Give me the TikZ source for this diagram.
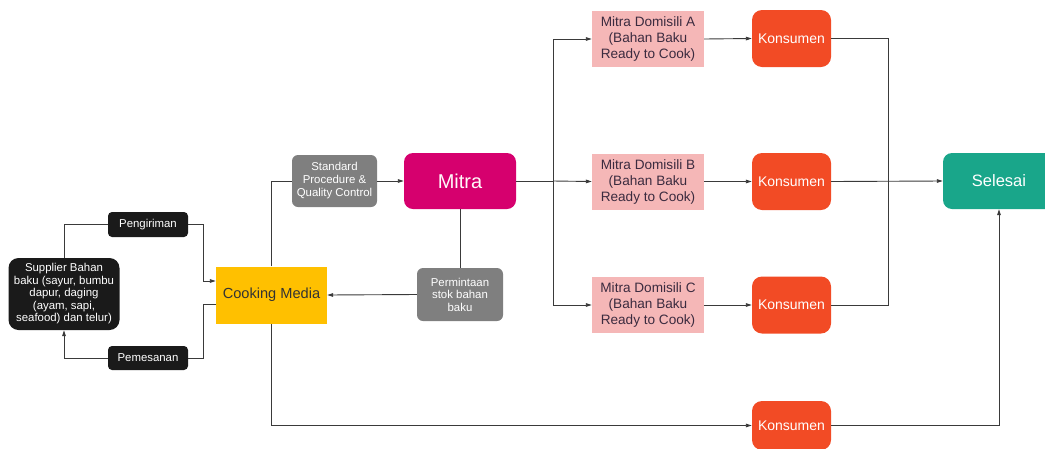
\documentclass[tikz,border=0pt]{standalone}
\usepackage{fontspec}
\setmainfont{Liberation Sans}
\usetikzlibrary{arrows.meta}
\definecolor{cmyellow}{HTML}{FFC000}
\definecolor{boxgray}{HTML}{7F7F7F}
\definecolor{mitramag}{HTML}{D6006E}
\definecolor{dompink}{HTML}{F5B7B7}
\definecolor{konorange}{HTML}{F24B25}
\definecolor{selteal}{HTML}{19A68A}
\definecolor{blackbox}{HTML}{1A1A1A}
\definecolor{linecol}{HTML}{3A3A3A}
\definecolor{domtext}{HTML}{3B2B3F}
\begin{document}
\begin{tikzpicture}[x=1pt,y=-1pt,
  base/.style={inner sep=0pt, align=center, anchor=center},
  darkbox/.style={base, fill=blackbox, text=white, rounded corners=4pt, font=\fontsize{11.4}{12.5}\selectfont},
  graybox/.style={base, fill=boxgray, text=white, rounded corners=6pt, font=\fontsize{11.4}{13}\selectfont},
  dombox/.style={base, fill=dompink, text=domtext, minimum width=112pt, minimum height=56pt, font=\fontsize{13.6}{16}\selectfont},
  konbox/.style={base, fill=konorange, text=white, rounded corners=10pt, minimum width=79pt, minimum height=57pt, font=\fontsize{14}{16}\selectfont},
  conn/.style={draw=linecol, line width=0.9pt},
  arr/.style={conn, -{Triangle[length=6pt,width=3.6pt]}}
]
\useasboundingbox (0,0) rectangle (1045,448);

% nodes
\node[darkbox, rounded corners=10pt, minimum width=111pt, minimum height=72pt] (sup) at (64,294)
  {Supplier Bahan\\baku (sayur, bumbu\\dapur, daging\\(ayam, sapi,\\seafood) dan telur)};
\node[darkbox, minimum width=80pt, minimum height=25pt] (peng) at (148,224.5) {Pengiriman};
\node[darkbox, minimum width=80pt, minimum height=24pt] (pem) at (148,358) {Pemesanan};
\node[base, fill=cmyellow, text=black!80, minimum width=111pt, minimum height=57pt, font=\fontsize{14.6}{16}\selectfont] (cm) at (271.5,295) {Cooking Media};
\node[graybox, minimum width=85pt, minimum height=52pt] (sop) at (334.5,181) {Standard\\Procedure \&\\Quality Control};
\node[base, fill=mitramag, text=white!90!pink, rounded corners=9pt, minimum width=112pt, minimum height=56pt, font=\fontsize{20}{22}\selectfont] (mitra) at (460,181) {Mitra};
\node[graybox, minimum width=86pt, minimum height=53pt, font=\fontsize{11.4}{12.5}\selectfont] (perm) at (460,294.5) {Permintaan\\stok bahan\\baku};
\node[dombox] (da) at (648,39) {Mitra Domisili A\\(Bahan Baku\\Ready to Cook)};
\node[dombox] (db) at (648,181.5) {Mitra Domisili B\\(Bahan Baku\\Ready to Cook)};
\node[dombox] (dc) at (648,305) {Mitra Domisili C\\(Bahan Baku\\Ready to Cook)};
\node[konbox] (ka) at (791.5,38.5) {Konsumen};
\node[konbox] (kb) at (791.5,181.5) {Konsumen};
\node[konbox] (kc) at (791.5,305) {Konsumen};
\node[konbox, minimum height=49pt] (kd) at (791.5,425.5) {Konsumen};
\node[base, fill=selteal, text=white, rounded corners=9pt, minimum width=112pt, minimum height=56pt, font=\fontsize{16.5}{18}\selectfont] (sel) at (999,181) {Selesai};

% helper coordinates
\coordinate (cmin) at (203,281);
\coordinate (cmout) at (203,304);
\coordinate (split) at (553,181);
\coordinate (join) at (888,181);

% supplier loop
\draw[conn] (sup.north) |- (peng.west);
\draw[arr] (peng.east) -| (cmin) -- (cmin -| cm.west);
\draw[conn] (cmout -| cm.west) -- (cmout) |- (pem.east);
\draw[arr] (pem.west) -| (sup.south);

% cooking media to SOP to Mitra
\draw[conn] (cm.north) |- (sop.west);
\draw[arr] (sop.east) -- (mitra.west);
\draw[conn] (mitra.south) -- (perm.north);
\draw[arr] (perm.west) -- (cm.east);

% Mitra to domisili
\draw[conn] (mitra.east) -- (split);
\draw[arr] (split) |- (da.west);
\draw[arr] (split) -- (db.west);
\draw[arr] (split) |- (dc.west);

\draw[arr] (da.east) -- (ka.west);
\draw[arr] (db.east) -- (kb.west);
\draw[arr] (dc.east) -- (kc.west);

% to Selesai
\draw[conn] (ka.east) -| (join);
\draw[conn] (kc.east) -| (join);
\draw[arr] (kb.east) -- (sel.west);

% bottom path
\draw[arr] (cm.south) |- (kd.west);
\draw[arr] (kd.east) -| (sel.south);
\end{tikzpicture}
\end{document}
